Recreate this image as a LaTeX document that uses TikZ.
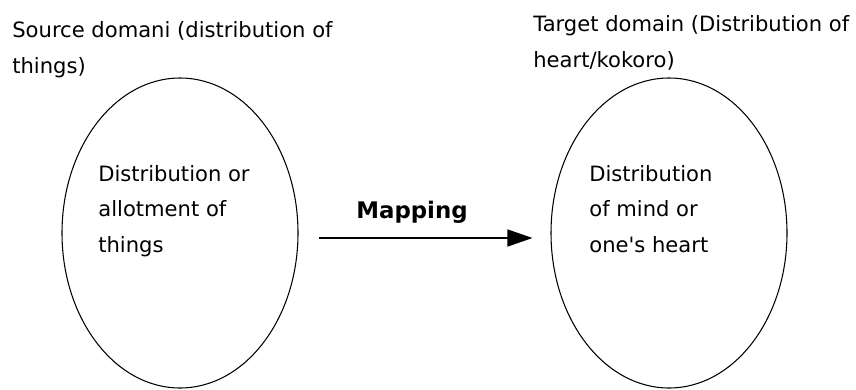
\documentclass[tikz,border=0pt]{standalone}
\usepackage{fontspec}
\setmainfont{DejaVu Sans}
\usetikzlibrary{shapes.geometric,arrows.meta}

\begin{document}
\begin{tikzpicture}[oval/.style={ellipse,draw,line width=0.6pt,minimum width=4.72cm,minimum height=6.2cm,inner sep=0pt},
  note/.style={align=left,inner sep=0pt,anchor=base west,font=\fontsize{12}{20}\selectfont}]
\useasboundingbox (0,0) rectangle (17.12,7.78);
\node[oval] (src) at (3.6,3.12) {};
\node[oval] (tgt) at (13.38,3.12) {};
% titles, placed by the baseline of their last line
\node[note] (srctitle) at (0.24,6.32) {Source domani (distribution of\\things)};
\node[note] (tgttitle) at (10.66,6.44) {Target domain (Distribution of\\heart/kokoro)};
\node[note] (srctext) at (1.96,2.74) {Distribution or\\allotment of\\things};
\node[note] (tgttext) at (11.78,2.74) {Distribution\\of mind or\\one\textquotesingle s heart};
\node[anchor=base,inner sep=0pt,font=\fontsize{13}{15}\selectfont\bfseries] (map) at (8.24,3.42) {Mapping};
\draw[line width=0.75pt,-{Triangle[length=0.5cm,width=0.34cm]},shorten <=0.4cm,shorten >=0.36cm]
  ([yshift=-0.1cm]src.east) -- ([yshift=-0.1cm]tgt.west);
\end{tikzpicture}
\end{document}
